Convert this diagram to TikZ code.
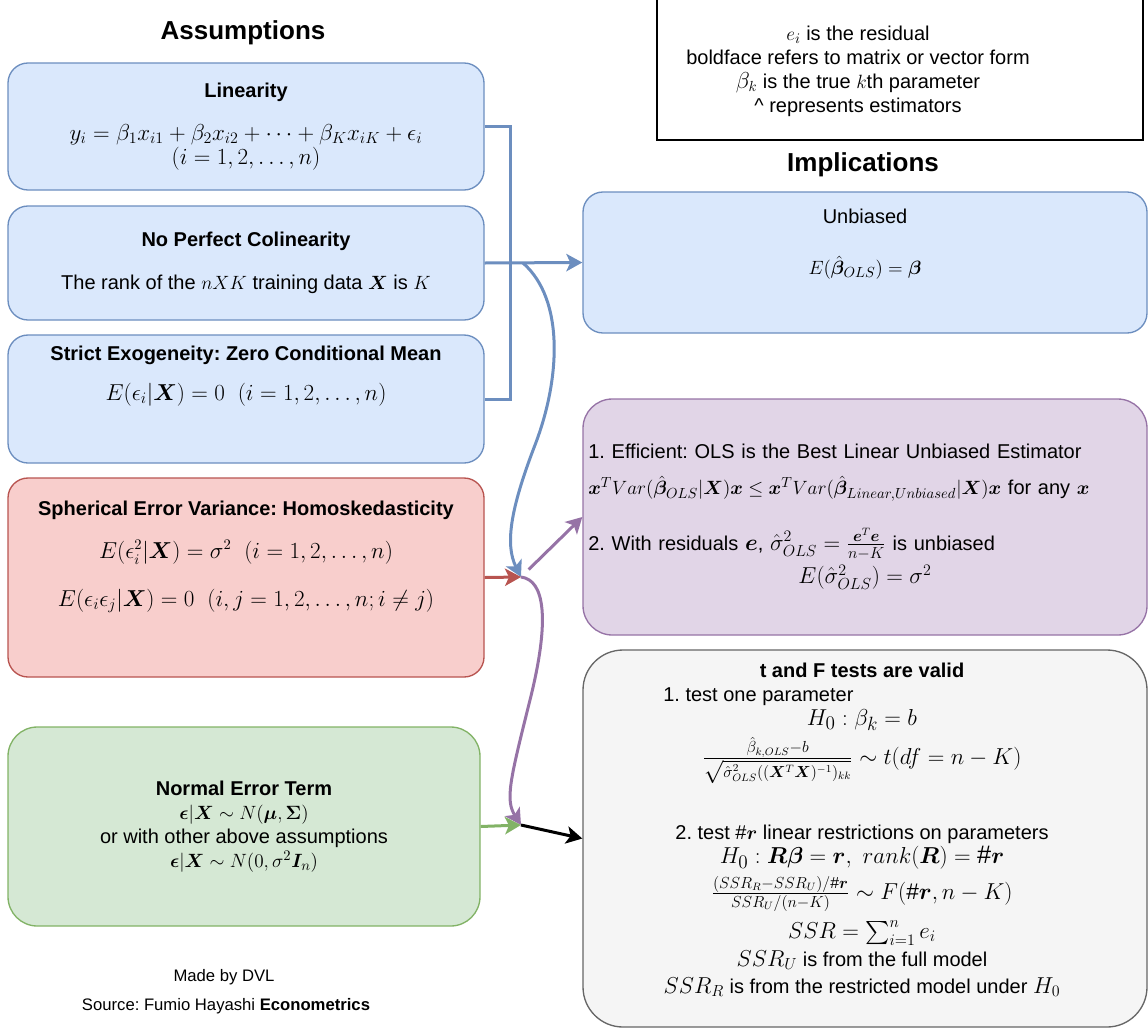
\documentclass[tikz,border=0pt]{standalone}
\usepackage{amsmath}
\usepackage{fontspec}
\setmainfont{Liberation Sans}
\usepackage{bm}
\usepackage{tikz}
\usetikzlibrary{arrows.meta}
\definecolor{azulCaja}{HTML}{DAE8FC}
\definecolor{azulBorde}{HTML}{6C8EBF}
\definecolor{rojoCaja}{HTML}{F8CECC}
\definecolor{rojoBorde}{HTML}{B85450}
\definecolor{verdeCaja}{HTML}{D5E8D4}
\definecolor{verdeBorde}{HTML}{82B366}
\definecolor{moradoCaja}{HTML}{E1D5E7}
\definecolor{moradoBorde}{HTML}{9673A6}
\definecolor{grisCaja}{HTML}{F5F5F5}
\definecolor{grisBorde}{HTML}{666666}
\newcommand{\fm}[2][18]{{\fontsize{#1}{#1}\selectfont$#2$}}
\frenchspacing

\begin{document}
\begin{tikzpicture}[x=0.75pt, y=-0.75pt,
    caja/.style={rectangle, rounded corners=15pt, line width=1pt, minimum width=357pt,
                 align=center, font=\fontsize{15}{18}\selectfont},
    azul/.style={caja, draw=azulBorde, fill=azulCaja},
    rojo/.style={caja, draw=rojoBorde, fill=rojoCaja},
    verde/.style={caja, draw=verdeBorde, fill=verdeCaja},
    morado/.style={caja, draw=moradoBorde, fill=moradoCaja},
    gris/.style={caja, draw=grisBorde, fill=grisCaja},
    texto/.style={align=center, font=\fontsize{15}{18}\selectfont},
    titulo/.style={font=\fontsize{19.5}{22}\selectfont\bfseries},
    linea/.style={line width=2.25pt},
    flecha/.style={linea, -{Stealth[length=12pt, width=13pt, inset=3pt]}}
  ]
  \useasboundingbox (0,0) rectangle (1148,1028);

  \node[titulo] (tasum) at (243,33) {Assumptions};
  \node[titulo] (timpl) at (863,165) {Implications};

  \node[caja, draw=black, fill=white, rounded corners=0pt, minimum width=364.5pt, minimum height=108pt] (nota) at (900,68) {};
  \node[texto] (notaT) at (858,71)
    {\fm[15]{e_i} is the residual\\ boldface refers to matrix or vector form\\
     \fm[16]{\beta_k} is the true \fm[15]{k}th parameter\\ \textasciicircum{} represents estimators};

  \node[azul, minimum height=95.25pt] (lin) at (246,126.5)
    {\textbf{Linearity}\\[14pt] \fm{y_i = \beta_1 x_{i1} + \beta_2 x_{i2} + \cdots + \beta_K x_{iK} + \epsilon_i}\\ \fm{(i = 1, 2, \dots, n)}};
  \node[azul, minimum height=85.5pt] (col) at (246,263)
    {\textbf{No Perfect Colinearity}\\[14pt] The rank of the $nXK$ training data $\bm{X}$ is $K$};
  \node[azul, minimum height=96pt] (exo) at (246,399) {};
  \node[texto] (exoT) at (246,376)
    {\textbf{Strict Exogeneity: Zero Conditional Mean}\\[12pt] \fm[16.5]{E(\epsilon_i|\bm{X}) = 0 \;\; (i = 1, 2, \dots, n)}};
  \node[rojo, minimum height=149.25pt] (sph) at (246,577.5) {};
  \node[texto] (sphT) at (246,557)
    {\textbf{Spherical Error Variance: Homoskedasticity}\\[14pt]
     \fm[16]{E(\epsilon_i^2|\bm{X}) = \sigma^2 \;\; (i = 1, 2, \dots, n)}\\[18pt]
     \fm[16.5]{E(\epsilon_i\epsilon_j|\bm{X}) = 0 \;\; (i, j = 1, 2, \dots, n; i \neq j)}};
  \node[verde, minimum width=354pt, minimum height=149.25pt, rounded corners=22pt] (nor) at (244,826.5)
    {\textbf{Normal Error Term}\\ \fm[15]{\bm{\epsilon}|\bm{X} \sim N(\bm{\mu}, \bm{\Sigma})}\\
     or with other above assumptions\\ \fm[15.5]{\bm{\epsilon}|\bm{X} \sim N(0, \sigma^2 \bm{I}_n)}};

  \node[texto, font=\fontsize{12.5}{15}\selectfont] (autor) at (224,977) {Made by DVL};
  \node[texto, font=\fontsize{12.5}{15}\selectfont] (fuente) at (226,1006) {Source: Fumio Hayashi \textbf{Econometrics}};

  \node[azul, minimum width=423pt, minimum height=105.75pt] (unb) at (865,262.5) {};
  \node[texto] (unbT) at (865,244) {Unbiased\\[20pt] \fm[15]{E(\hat{\bm{\beta}}_{OLS}) = \bm{\beta}}};

  \node[morado, minimum width=423pt, minimum height=177pt, rounded corners=22pt, text width=415pt, align=left] (efi) at (865,517)
    {1. Efficient: OLS is the Best Linear Unbiased Estimator\\[9pt]
     \mbox{\fm[15.8]{\bm{x}^T Var(\hat{\bm{\beta}}_{OLS}|\bm{X})\bm{x} \le \bm{x}^T Var(\hat{\bm{\beta}}_{Linear,Unbiased}|\bm{X})\bm{x}} for any \fm[15.8]{\bm{x}}}\\[19pt]
     2. With residuals \fm[16]{\bm{e}}, \fm[17]{\hat{\sigma}^2_{OLS} = \frac{\bm{e}^T\bm{e}}{n-K}} is unbiased\par
     \vspace{3pt}\centering\fm{E(\hat{\sigma}^2_{OLS}) = \sigma^2}\par};

  \node[gris, minimum width=423pt, minimum height=282.75pt, rounded corners=30pt] (prue) at (865,838.5) {};
  \node[texto, anchor=north] (prueT) at (862,658)
    {\textbf{t and F tests are valid}\\
     \makebox[282pt][l]{\hspace*{-8pt}1. test one parameter}\\
     \fm[19]{H_0 : \beta_k = b}\\[4pt]
     \fm[17]{\frac{\hat{\beta}_{k,OLS} - b}{\sqrt{\hat{\sigma}^2_{OLS}((\bm{X}^T\bm{X})^{-1})_{kk}}} \sim t(df = n - K)}\\[30pt]
     2. test \fm[15]{\#\bm{r}} linear restrictions on parameters\\
     \fm[19]{H_0 : \bm{R\beta} = \bm{r},\ rank(\bm{R}) = \#\bm{r}}\\[4pt]
     \fm[17]{\frac{(SSR_R - SSR_U)/\#\bm{r}}{SSR_U/(n-K)} \sim F(\#\bm{r}, n - K)}\\[6pt]
     \fm{SSR = \sum_{i=1}^{n} e_i}\\[3pt]
     \fm{SSR_U} is from the full model\\[2pt]
     \fm{SSR_R} is from the restricted model under \fm{H_0}};

  \coordinate (bus) at (510,263);
  \coordinate (ramal) at (523,263);
  \coordinate (j1) at (521,577);
  \coordinate (j2) at (521,825);

  \draw[linea, azulBorde] (lin.east) -| (bus) |- (exo.east);
  \draw[flecha, azulBorde] (col.east) -- (unb.west);
  \draw[flecha, azulBorde] (ramal) .. controls (565,300) and (560,380) .. (535,445)
    .. controls (510,510) and (505,545) .. (j1);
  \draw[flecha, rojoBorde] (sph.east) -- (j1);
  \draw[flecha, moradoBorde, shorten <=8pt] (j1) -- (efi.west);
  \draw[flecha, moradoBorde] (j1) .. controls (545,580) and (550,620) .. (530,700)
    .. controls (510,780) and (505,800) .. (j2);
  \draw[flecha, verdeBorde] (nor.east) -- (j2);
  \draw[flecha, black] (j2) -- (prue.west);
\end{tikzpicture}
\end{document}
